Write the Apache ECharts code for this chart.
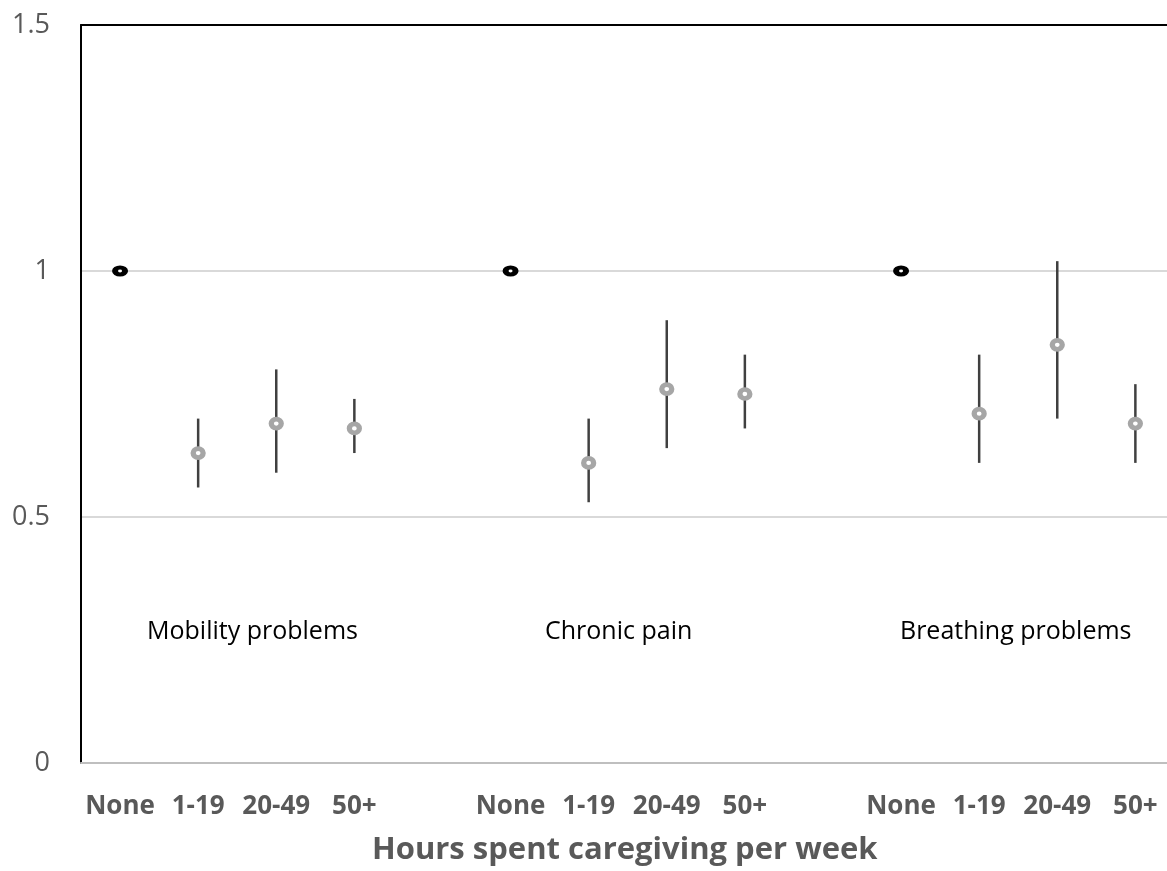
<!DOCTYPE html>
<html>
<head>
<meta charset="utf-8">
<script src="https://cdn.jsdelivr.net/npm/echarts@6/dist/echarts.min.js"></script>
<style>
html,body{margin:0;padding:0;background:#fff;}
#chart{width:1167px;height:871px;}
</style>
</head>
<body>
<div id="chart"></div>
<script>
// ---- data ----
const hourGroups = ['None', '1-19', '20-49', '50+'];
const conditions = ['Mobility problems', 'Chronic pain', 'Breathing problems'];
const categories = ['None', '1-19', '20-49', '50+', '', 'None', '1-19', '20-49', '50+', '', 'None', '1-19', '20-49', '50+'];
const yTicks = [0, 0.5, 1, 1.5];

const mobilityOR   = [1, 0.63, 0.69, 0.68];
const mobilityLow  = [null, 0.56, 0.59, 0.63];
const mobilityHigh = [null, 0.70, 0.80, 0.74];

const painOR   = [1, 0.61, 0.76, 0.75];
const painLow  = [null, 0.53, 0.64, 0.68];
const painHigh = [null, 0.70, 0.90, 0.83];

const breathingOR   = [1, 0.71, 0.85, 0.69];
const breathingLow  = [null, 0.61, 0.70, 0.61];
const breathingHigh = [null, 0.83, 1.02, 0.77];

// ---- build series data ----
const blocks = [
  {start: 0, or: mobilityOR, lo: mobilityLow, hi: mobilityHigh},
  {start: 5, or: painOR, lo: painLow, hi: painHigh},
  {start: 10, or: breathingOR, lo: breathingLow, hi: breathingHigh}
];
const refPts = [], estPts = [], errData = [];
blocks.forEach(b => {
  b.or.forEach((v, i) => {
    const idx = b.start + i;
    if (i === 0) refPts.push([idx, v]);
    else {
      estPts.push([idx, v]);
      errData.push([idx, b.lo[i], b.hi[i]]);
    }
  });
});
const labelPositions = categories.map((c, i) => c ? i : null).filter(v => v !== null);

const chart = echarts.init(document.getElementById('chart'));
const font = "'Open Sans', sans-serif";
// the plotted category range continues past the right edge of the picture
const xMin = -0.5, xMax = 13.405;
const option = {
  animation: false,
  grid: {left: 81, top: 25, right: 0, bottom: 108},
  xAxis: [{
    type: 'value',
    min: xMin,
    max: xMax,
    axisLine: {onZero: false, lineStyle: {color: '#bfbfbf', width: 2}},
    axisTick: {show: false},
    axisLabel: {
      customValues: labelPositions,
      margin: 31, color: '#595959', fontFamily: font, fontWeight: 'bold', fontSize: 26,
      formatter: v => categories[Math.round(v)] || ''
    },
    splitLine: {show: false},
    z: 5
  }, {
    type: 'value',
    position: 'top',
    min: xMin,
    max: xMax,
    axisLine: {show: true, onZero: false, lineStyle: {color: '#000', width: 2}},
    axisTick: {show: false},
    axisLabel: {show: false},
    splitLine: {show: false}
  }],
  yAxis: {
    type: 'value',
    position: 'left',
    min: yTicks[0],
    max: yTicks[yTicks.length - 1],
    interval: 0.5,
    axisLine: {show: true, onZero: false, lineStyle: {color: '#000', width: 2}},
    axisTick: {show: false},
    axisLabel: {margin: 31, color: '#595959', fontFamily: font, fontSize: 27},
    splitLine: {lineStyle: {color: ['transparent', '#d9d9d9', '#d9d9d9', 'transparent'], width: 2}}
  },
  series: [
    {
      type: 'custom',
      data: errData,
      z: 2,
      renderItem: function (params, api) {
        const p1 = api.coord([api.value(0), api.value(1)]);
        const p2 = api.coord([api.value(0), api.value(2)]);
        return {
          type: 'line',
          shape: {x1: p1[0], y1: p1[1], x2: p2[0], y2: p2[1]},
          style: {stroke: '#404040', lineWidth: 2.5}
        };
      }
    },
    {
      type: 'scatter',
      data: refPts,
      symbol: 'circle',
      symbolSize: [10, 7],
      z: 4,
      itemStyle: {color: '#fff', borderColor: '#000', borderWidth: 5, opacity: 1}
    },
    {
      type: 'scatter',
      data: estPts,
      symbol: 'circle',
      symbolSize: [10, 9],
      z: 4,
      itemStyle: {color: '#fff', borderColor: '#a6a6a6', borderWidth: 5, opacity: 1}
    }
  ],
  graphic: [
    {type: 'text', left: 147, top: 619, style: {text: conditions[0], fill: '#000', font: "25px 'Open Sans', sans-serif"}},
    {type: 'text', left: 545, top: 619, style: {text: conditions[1], fill: '#000', font: "25px 'Open Sans', sans-serif"}},
    {type: 'text', left: 900, top: 619, style: {text: conditions[2], fill: '#000', font: "25px 'Open Sans', sans-serif"}},
    {type: 'text', left: 372, top: 835, style: {text: 'Hours spent caregiving per week', fill: '#595959', font: "bold 31px 'Open Sans', sans-serif"}}
  ]
};
chart.setOption(option);
</script>
</body>
</html>
